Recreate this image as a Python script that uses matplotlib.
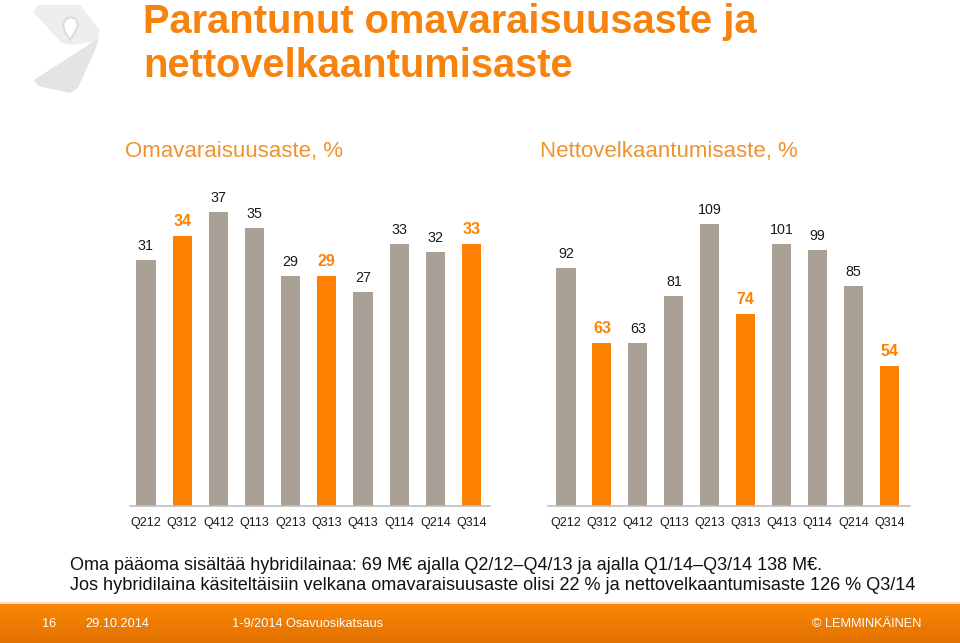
import matplotlib
matplotlib.use("Agg")
import matplotlib.pyplot as plt
import numpy as np
from matplotlib.patches import Polygon
from matplotlib.colors import LinearSegmentedColormap

plt.rcParams['font.family'] = ['Liberation Sans', 'DejaVu Sans']

# data
quarters = ['Q212', 'Q312', 'Q412', 'Q113', 'Q213', 'Q313', 'Q413', 'Q114', 'Q214', 'Q314']
equity_ratio = [31, 34, 37, 35, 29, 29, 27, 33, 32, 33]
gearing = [92, 63, 63, 81, 109, 74, 101, 99, 85, 54]
highlight = ['Q312', 'Q313', 'Q314']

GRAY = '#A8A095'
ORANGE = '#FD8204'
TITLE_ORANGE = '#F7830F'
SUB_ORANGE = '#F0922E'

W, H = 960, 643
fig = plt.figure(figsize=(W / 100, H / 100), dpi=100)
fig.patch.set_facecolor('white')


def fx(x):
    return x / W


def fy(y):
    return 1 - y / H


def box(x0, y0, x1, y1):
    # pixel box (top-left origin) -> figure fraction rect
    return [fx(x0), fy(y1), (x1 - x0) / W, (y1 - y0) / H]


def bar_panel(ax, values, ymax, xlim):
    colors = [ORANGE if q in highlight else GRAY for q in quarters]
    x = np.arange(len(quarters))
    ax.bar(x, values, width=0.53, color=colors)
    for xi, v, q in zip(x, values, quarters):
        if q in highlight:
            ax.annotate(str(v), (xi, v), xytext=(0, 5), textcoords='offset points',
                        ha='center', va='bottom', fontsize=11.5, fontweight='bold', color=ORANGE)
        else:
            ax.annotate(str(v), (xi, v), xytext=(0, 5), textcoords='offset points',
                        ha='center', va='bottom', fontsize=10.3, color='#1a1a1a')
    ax.set_xlim(*xlim)
    ax.set_ylim(0, ymax)
    ax.set_xticks(x)
    ax.set_xticklabels(quarters, fontsize=9, color='#1a1a1a')
    ax.tick_params(axis='x', length=0, pad=8)
    ax.set_yticks([])
    for s in ['top', 'right', 'left']:
        ax.spines[s].set_visible(False)
    ax.spines['bottom'].set_color('#BDBDBD')
    ax.spines['bottom'].set_linewidth(1.2)


ax1 = fig.add_axes(box(130, 195, 490, 506))
bar_panel(ax1, equity_ratio, 311 / 7.94, (-0.44, 9.51))

ax2 = fig.add_axes(box(548, 195, 910, 506))
bar_panel(ax2, gearing, 311 / 2.59, (-0.5, 9.57))

# titles
fig.text(fx(143), fy(33), 'Parantunut omavaraisuusaste ja', fontsize=28.7, fontweight='bold',
         color=TITLE_ORANGE, va='baseline', ha='left')
fig.text(fx(143), fy(77), 'nettovelkaantumisaste', fontsize=28.7, fontweight='bold',
         color=TITLE_ORANGE, va='baseline', ha='left')
fig.text(fx(125), fy(152), 'Omavaraisuusaste, %', fontsize=16, color=SUB_ORANGE,
         va='center', ha='left')
fig.text(fx(540), fy(152), 'Nettovelkaantumisaste, %', fontsize=16, color=SUB_ORANGE,
         va='center', ha='left')

# footnote
fig.text(fx(70), fy(565), 'Oma pääoma sisältää hybridilainaa: 69 M€ ajalla Q2/12–Q4/13 ja ajalla Q1/14–Q3/14 138 M€.',
         fontsize=13, color='#111111', va='center', ha='left')
fig.text(fx(70), fy(586), 'Jos hybridilaina käsiteltäisiin velkana omavaraisuusaste olisi 22 % ja nettovelkaantumisaste 126 % Q3/14',
         fontsize=13.1, color='#111111', va='center', ha='left')

# footer band with gradient
fax = fig.add_axes(box(0, 604, 960, 643))
grad = LinearSegmentedColormap.from_list('band', ['#FB8705', '#E27100'])
fax.imshow(np.linspace(0, 1, 40).reshape(-1, 1), aspect='auto', cmap=grad,
           extent=[0, 1, 0, 1], origin='upper')
fax.set_axis_off()
fig.add_artist(plt.Line2D([0, 1], [fy(603), fy(603)], color='#F6D9B8', lw=1.2,
                          transform=fig.transFigure))
for xpos, txt in [(42, '16'), (85, '29.10.2014'), (232, '1-9/2014 Osavuosikatsaus'),
                  (812, '© LEMMINKÄINEN')]:
    fig.text(fx(xpos), fy(624), txt, fontsize=9.2, color='white', va='center', ha='left')

# faint logo top-left
logo_upper = [(33, 12), (38, 5), (80, 5), (100, 30), (97, 41), (72, 45), (62, 43)]
logo_lower = [(99, 38), (96, 48), (78, 88), (70, 93), (38, 86), (34, 80)]
for pts, col in [(logo_upper, '#EEEEEE'), (logo_lower, '#E4E4E4')]:
    fig.add_artist(Polygon([(fx(px), fy(py)) for px, py in pts], closed=True,
                           facecolor=col, edgecolor='none', transform=fig.transFigure))
fig.add_artist(Polygon([(fx(px), fy(py)) for px, py in
                        [(63, 24), (66, 19), (71, 17), (76, 19), (78, 25), (75, 32), (70, 40), (65, 32)]],
                       closed=True, facecolor='white', edgecolor='#DCDCDC', lw=1.5,
                       transform=fig.transFigure))

fig.savefig('out.png', dpi=100)
